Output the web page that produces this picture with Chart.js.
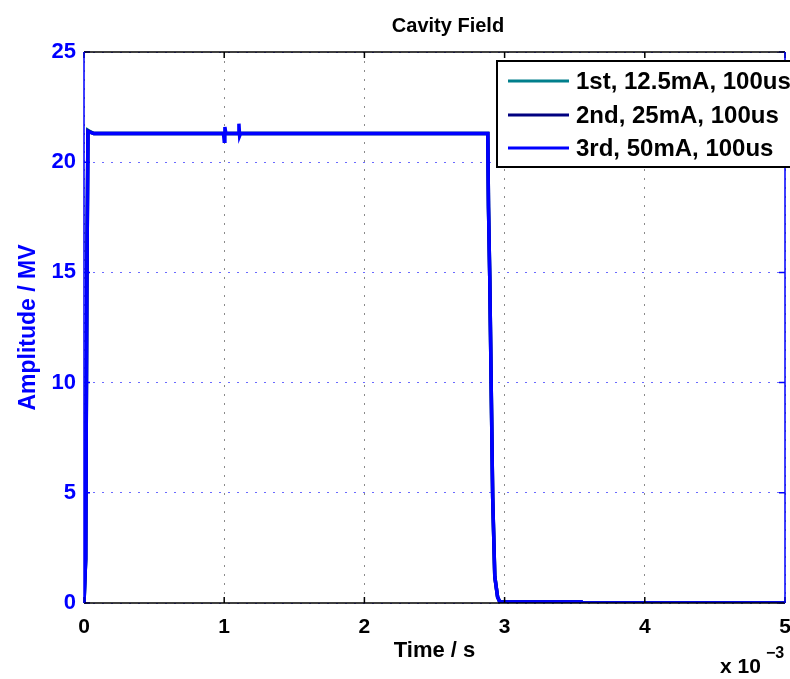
<!DOCTYPE html>
<html>
<head>
<meta charset="utf-8">
<script src="https://cdn.jsdelivr.net/npm/chart.js@4.4.1/dist/chart.umd.min.js"></script>
<style>
  html, body { margin: 0; padding: 0; background: #fff; }
  #wrap { width: 790px; height: 679px; position: relative; }
</style>
</head>
<body>
<div id="wrap"><canvas id="cavityChart" width="790" height="679"></canvas></div>
<script>
// time in units of 1e-3 s, amplitude in MV
const seriesLabels = ["1st, 12.5mA, 100us", "2nd, 25mA, 100us", "3rd, 50mA, 100us"];
const seriesColors = ["#007f8c", "#000080", "#0000ff"];

const time1 = [0, 0.012, 0.02, 0.028, 0.04, 0.07, 1.0, 1.1, 2.88, 2.885, 2.894, 2.915, 2.93, 2.95, 2.965, 3.0, 3.55, 3.56, 5];
const amp1  = [0, 2.0, 14.0, 21.45, 21.4, 21.3, 21.3, 21.3, 21.3, 18.0, 14.8, 4.8, 1.2, 0.27, 0.06, 0.05, 0.04, 0, 0];

const time2 = [0, 0.012, 0.02, 0.028, 0.04, 0.07, 1.0, 1.1, 2.88, 2.885, 2.894, 2.915, 2.93, 2.95, 2.965, 3.0, 3.55, 3.56, 5];
const amp2  = [0, 2.0, 14.0, 21.42, 21.38, 21.3, 21.3, 21.3, 21.3, 18.0, 14.8, 4.8, 1.2, 0.27, 0.06, 0.05, 0.04, 0, 0];

const time3 = [0, 0.012, 0.02, 0.028, 0.04, 0.07, 0.995, 1.0, 1.005, 1.012, 1.1, 1.105, 1.11, 1.116, 2.88, 2.885, 2.894, 2.915, 2.93, 2.95, 2.965, 3.0, 3.55, 3.56, 5];
const amp3  = [0, 2.0, 14.0, 21.4, 21.36, 21.3, 21.3, 20.95, 21.6, 21.3, 21.3, 21.75, 21.2, 21.3, 21.3, 18.0, 14.8, 4.8, 1.2, 0.27, 0.06, 0.05, 0.04, 0, 0];

const xTicks = [0, 1, 2, 3, 4, 5];
const yTicks = [0, 5, 10, 15, 20, 25];

const FONT = "'Liberation Sans', Arial, Helvetica, sans-serif";

const toPoints = (xs, ys) => xs.map((x, i) => ({ x: x, y: ys[i] }));

// box, inward tick marks, legend and exponent label
const matlabDecor = {
    id: 'matlabDecor',
    afterDatasetsDraw(chart) {
        const { ctx, chartArea: a, scales } = chart;
        ctx.save();
        ctx.lineWidth = 1.5;

        // inward ticks
        const tl = 6;
        ctx.strokeStyle = '#000';
        xTicks.forEach(v => {
            const px = scales.x.getPixelForValue(v);
            ctx.beginPath();
            ctx.moveTo(px, a.bottom); ctx.lineTo(px, a.bottom - tl);
            ctx.moveTo(px, a.top); ctx.lineTo(px, a.top + tl);
            ctx.stroke();
        });
        ctx.strokeStyle = '#0000ff';
        yTicks.forEach(v => {
            const py = scales.y.getPixelForValue(v);
            ctx.beginPath();
            ctx.moveTo(a.left, py); ctx.lineTo(a.left + tl, py);
            ctx.moveTo(a.right, py); ctx.lineTo(a.right - tl, py);
            ctx.stroke();
        });

        // axes box
        ctx.strokeStyle = '#000';
        ctx.beginPath();
        ctx.moveTo(a.left, a.top); ctx.lineTo(a.right, a.top);
        ctx.moveTo(a.left, a.bottom); ctx.lineTo(a.right, a.bottom);
        ctx.stroke();
        ctx.strokeStyle = '#0000ff';
        ctx.beginPath();
        ctx.moveTo(a.left, a.top); ctx.lineTo(a.left, a.bottom);
        ctx.moveTo(a.right, a.top); ctx.lineTo(a.right, a.bottom);
        ctx.stroke();

        // legend
        const lx = 497, ly = 61, lw = 310, lh = 106;
        ctx.fillStyle = '#fff';
        ctx.fillRect(lx, ly, lw, lh);
        ctx.strokeStyle = '#000';
        ctx.lineWidth = 2;
        ctx.strokeRect(lx, ly, lw, lh);
        const rows = [81, 115, 148];
        ctx.font = "bold 24px " + FONT;
        ctx.textBaseline = 'middle';
        ctx.textAlign = 'left';
        chart.data.datasets.forEach((ds, i) => {
            ctx.strokeStyle = ds.borderColor;
            ctx.lineWidth = 3;
            ctx.beginPath();
            ctx.moveTo(508, rows[i]); ctx.lineTo(569, rows[i]);
            ctx.stroke();
            ctx.fillStyle = '#000';
            ctx.fillText(ds.label, 576, rows[i] + 1);
        });

        // title
        ctx.fillStyle = '#000';
        ctx.textAlign = 'center';
        ctx.font = "bold 20px " + FONT;
        ctx.fillText('Cavity Field', 448, 26);

        // exponent
        ctx.textAlign = 'left';
        ctx.textBaseline = 'alphabetic';
        ctx.font = "bold 21px " + FONT;
        ctx.fillText('x 10', 720, 673);
        ctx.font = "bold 16px " + FONT;
        ctx.fillText('\u22123', 766, 658);
        ctx.restore();
    }
};

new Chart(document.getElementById('cavityChart'), {
    type: 'line',
    data: {
        datasets: [
            { label: seriesLabels[0], data: toPoints(time1, amp1), borderColor: seriesColors[0], order: 3 },
            { label: seriesLabels[1], data: toPoints(time2, amp2), borderColor: seriesColors[1], order: 2 },
            { label: seriesLabels[2], data: toPoints(time3, amp3), borderColor: seriesColors[2], order: 1 }
        ].map(d => Object.assign(d, { borderWidth: 3.5, pointRadius: 0, tension: 0, fill: false }))
    },
    options: {
        responsive: false,
        animation: false,
        devicePixelRatio: 1,
        layout: { padding: { top: 52, right: 5, left: 0, bottom: 0 } },
        plugins: {
            legend: { display: false },
            tooltip: { enabled: false },
            title: { display: false }
        },
        scales: {
            x: {
                type: 'linear',
                min: 0, max: 5,
                afterBuildTicks: s => { s.ticks = xTicks.map(v => ({ value: v })); },
                afterFit: s => { s.height = 76; s.paddingLeft = 0; s.paddingRight = 0; },
                ticks: { color: '#000', padding: 12, maxRotation: 0, font: { family: FONT, size: 21, weight: 'bold' } },
                grid: { color: '#8a8a8a', lineWidth: 1, drawTicks: false },
                border: { display: false, dash: [2, 7] },
                title: { display: true, text: 'Time / s', color: '#000', padding: { top: 0, bottom: 15 }, font: { family: FONT, size: 22, weight: 'bold' } }
            },
            y: {
                min: 0, max: 25,
                afterBuildTicks: s => { s.ticks = yTicks.map(v => ({ value: v })); },
                afterFit: s => { s.width = 84; s.paddingTop = 0; s.paddingBottom = 0; },
                ticks: { color: '#0000ff', padding: 8, font: { family: FONT, size: 22, weight: 'bold' } },
                grid: { color: '#6a6aff', lineWidth: 1, drawTicks: false },
                border: { display: false, dash: [2, 7] },
                title: { display: true, text: 'Amplitude / MV', color: '#0000ff', padding: { top: 15, bottom: 0 }, font: { family: FONT, size: 23, weight: 'bold' } }
            }
        }
    },
    plugins: [matlabDecor]
});
</script>
</body>
</html>
